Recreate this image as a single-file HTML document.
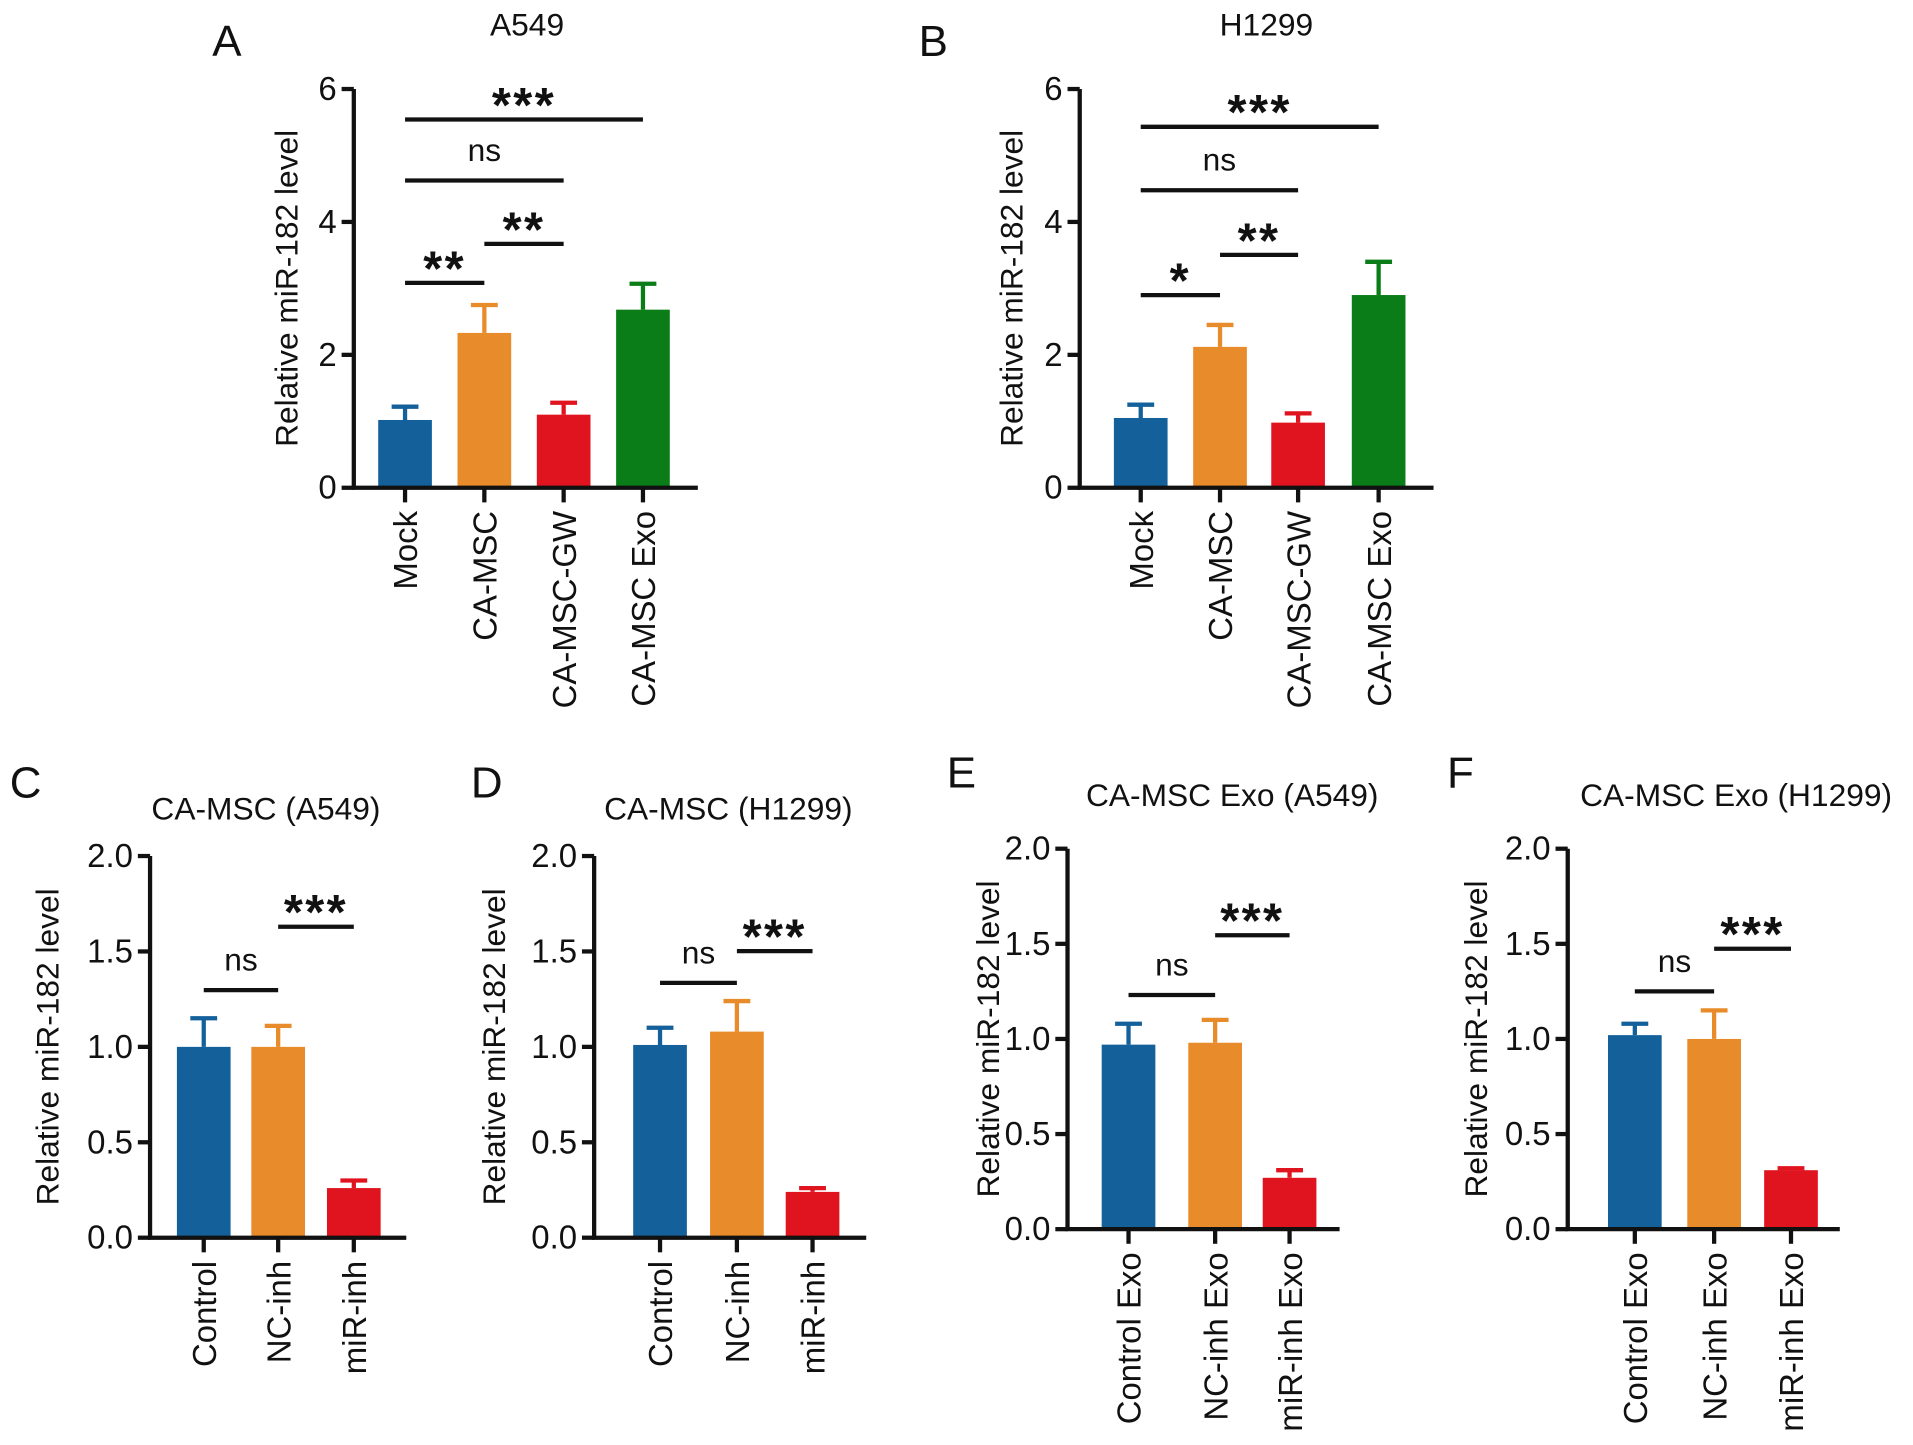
<!DOCTYPE html>
<html><head><meta charset="utf-8"><style>
html,body{margin:0;padding:0;background:#fff}
svg{display:block}
text{font-family:"Liberation Sans",sans-serif;fill:#111}
</style></head>
<body>
<svg id="fig" width="1913" height="1445" viewBox="0 0 1568 1185" preserveAspectRatio="none" xmlns="http://www.w3.org/2000/svg"></svg>
<script>
const colors = ["#13609b", "#e88b2a", "#e0141e", "#0b7d18"];
// Panel A
const catsA = ["Mock", "CA-MSC", "CA-MSC-GW", "CA-MSC Exo"];
const valsA = [1.02, 2.33, 1.10, 2.68];
const errsA = [1.22, 2.75, 1.28, 3.07];
const ticksA = [0, 2, 4, 6];
// Panel B
const catsB = ["Mock", "CA-MSC", "CA-MSC-GW", "CA-MSC Exo"];
const valsB = [1.05, 2.12, 0.98, 2.90];
const errsB = [1.25, 2.45, 1.12, 3.40];
// Panels C-F
const ticksSmall = ["0.0", "0.5", "1.0", "1.5", "2.0"];
const catsC = ["Control", "NC-inh", "miR-inh"];
const valsC = [1.00, 1.00, 0.26];
const errsC = [1.15, 1.11, 0.30];
const catsD = ["Control", "NC-inh", "miR-inh"];
const valsD = [1.01, 1.08, 0.24];
const errsD = [1.10, 1.24, 0.26];
const catsE = ["Control Exo", "NC-inh Exo", "miR-inh Exo"];
const valsE = [0.97, 0.98, 0.27];
const errsE = [1.08, 1.10, 0.31];
const catsF = ["Control Exo", "NC-inh Exo", "miR-inh Exo"];
const valsF = [1.02, 1.00, 0.31];
const errsF = [1.08, 1.15, 0.32];

const svg = document.getElementById('fig');
const NS = "http://www.w3.org/2000/svg";
function mk(tag, attrs, parent, txt) {
  const e = document.createElementNS(NS, tag);
  for (const k in attrs) e.setAttribute(k, attrs[k]);
  if (txt !== undefined) e.textContent = txt;
  (parent || svg).appendChild(e);
  return e;
}

function panel(cfg) {
  const g = mk('g', {});
  
  
  const y = v => cfg.y0 - (v / cfg.ymax) * (cfg.y0 - cfg.yTop);
  const x = i => cfg.xs[i];
  const lt = mk('text', {x: cfg.lx, y: cfg.ly, 'font-size': 36}, g, cfg.letter);
  
  
  const tt = mk('text', {x: cfg.tx, y: cfg.ty, 'font-size': 26, 'text-anchor': 'middle'}, g, cfg.title);
  
  
  cfg.vals.forEach((v, i) => {
    const b = mk('rect', {x: x(i) - 22, y: y(v), width: 44, height: cfg.y0 - y(v), fill: colors[i]}, g);
    
    
    const e = mk('path', {d: `M${x(i)} ${y(v)}V${y(cfg.errs[i])}M${x(i)-11} ${y(cfg.errs[i])}H${x(i)+11}`, stroke: colors[i], 'stroke-width': 3.5, fill: 'none'}, g);
    
    
  });
  const ax = mk('path', {d: `M${cfg.ax} ${cfg.yTop}V${cfg.y0}H${cfg.xEnd}`, stroke: '#111', 'stroke-width': 3.5, fill: 'none'}, g);
  
  
  cfg.ticks.forEach(t => {
    const v = parseFloat(t);
    mk('line', {x1: cfg.ax - 10, x2: cfg.ax, y1: y(v), y2: y(v), stroke: '#111', 'stroke-width': 3.5}, g);
    const tl = mk('text', {x: cfg.ax - 14, y: y(v) + 9, 'font-size': 27, 'text-anchor': 'end'}, g, t);
    
    
  });
  cfg.cats.forEach((c, i) => {
    mk('line', {x1: x(i), x2: x(i), y1: cfg.y0, y2: cfg.y0 + 12, stroke: '#111', 'stroke-width': 3.5}, g);
    const cl = mk('text', {x: 0, y: 0, 'font-size': 27, 'text-anchor': 'end', transform: `translate(${x(i)+10},${cfg.y0+19}) rotate(-90)`}, g, c);
    
    
  });
  const yl = mk('text', {x: 0, y: 0, 'font-size': 26, 'text-anchor': 'middle', transform: `translate(${cfg.ylx},${(cfg.y0 + cfg.yTop) / 2}) rotate(-90)`}, g, 'Relative miR-182 level');
  
  
  cfg.sig.forEach(s => {
    const [a, b, ly, lab] = s;
    mk('line', {x1: x(a), x2: x(b), y1: ly, y2: ly, stroke: '#111', 'stroke-width': 3.5}, g);
    const ns = lab === 'ns';
    const st = mk('text', {x: (x(a) + x(b)) / 2, y: ns ? ly - 16 : ly + 2, 'font-size': ns ? 26 : 40, 'font-weight': ns ? 'normal' : 'bold', 'text-anchor': 'middle', 'letter-spacing': ns ? 0 : 2}, g, lab);
    
    
  });
}

panel({letter:'A', lx:174, ly:46, title:'A549', tx:432, ty:29, cats:catsA, vals:valsA, errs:errsA, ticks:ticksA.map(String), ymax:6, y0:400, yTop:73, ax:290, xEnd:572, xs:[332,397,462,527], ylx:244,
  sig:[[0,3,98,'***'],[0,2,148,'ns'],[0,1,232,'**'],[1,2,200,'**']]});
panel({letter:'B', lx:753, ly:46, title:'H1299', tx:1038, ty:29, cats:catsB, vals:valsB, errs:errsB, ticks:ticksA.map(String), ymax:6, y0:400, yTop:73, ax:885, xEnd:1175, xs:[935,1000,1064,1130], ylx:838,
  sig:[[0,3,104,'***'],[0,2,156,'ns'],[0,1,242,'*'],[1,2,209,'**']]});
panel({letter:'C', lx:8, ly:654, title:'CA-MSC (A549)', tx:218, ty:672, cats:catsC, vals:valsC, errs:errsC, ticks:ticksSmall, ymax:2, y0:1015, yTop:702, ax:123, xEnd:333, xs:[167,228,290], ylx:48,
  sig:[[0,1,812,'ns'],[1,2,760,'***']]});
panel({letter:'D', lx:386, ly:654, title:'CA-MSC (H1299)', tx:597, ty:672, cats:catsD, vals:valsD, errs:errsD, ticks:ticksSmall, ymax:2, y0:1015, yTop:702, ax:487, xEnd:710, xs:[541,604,666], ylx:414,
  sig:[[0,1,806,'ns'],[1,2,780,'***']]});
panel({letter:'E', lx:776, ly:646, title:'CA-MSC Exo (A549)', tx:1010, ty:661, cats:catsE, vals:valsE, errs:errsE, ticks:ticksSmall, ymax:2, y0:1008, yTop:696, ax:875, xEnd:1098, xs:[925,996,1057], ylx:819,
  sig:[[0,1,816,'ns'],[1,2,767,'***']]});
panel({letter:'F', lx:1186, ly:646, title:'CA-MSC Exo (H1299)', tx:1423, ty:661, cats:catsF, vals:valsF, errs:errsF, ticks:ticksSmall, ymax:2, y0:1008, yTop:696, ax:1285, xEnd:1508, xs:[1340,1405,1468], ylx:1219,
  sig:[[0,1,813,'ns'],[1,2,778,'***']]});
</script>
</body></html>
